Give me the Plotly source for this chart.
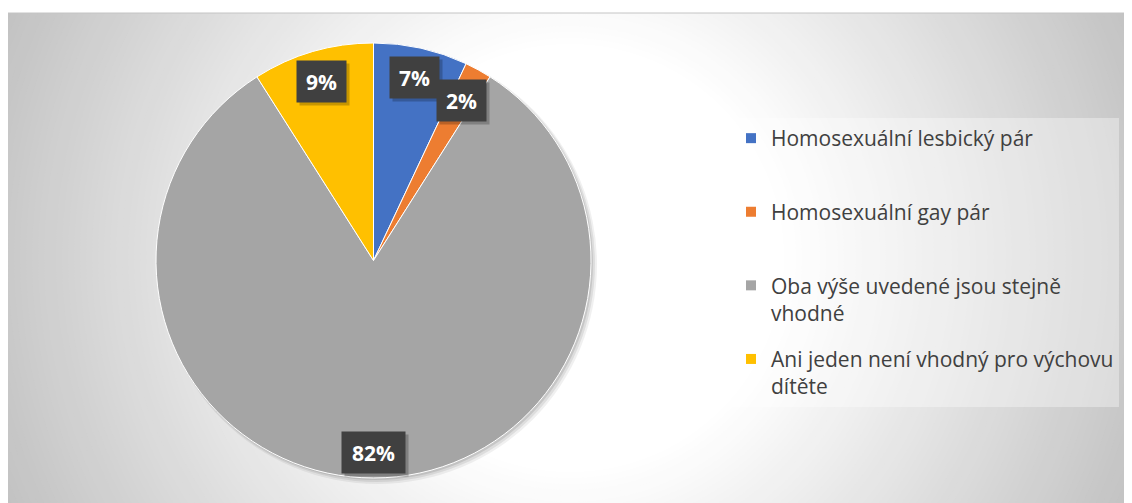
import math
import plotly.graph_objects as go

# ---- data ----
categories = [
    "Homosexuální lesbický pár",
    "Homosexuální gay pár",
    "Oba výše uvedené jsou stejně vhodné",
    "Ani jeden není vhodný pro výchovu dítěte",
]
legend_names = [
    "Homosexuální lesbický pár<br>\u00a0",
    "Homosexuální gay pár<br>\u00a0",
    "Oba výše uvedené jsou stejně<br>vhodné",
    "Ani jeden není vhodný pro výchovu<br>dítěte",
]
values = [7, 2, 82, 9]
value_labels = ["7%", "2%", "82%", "9%"]
colors = ["#4472C4", "#ED7D31", "#A5A5A5", "#FFC000"]

# ---- geometry (pixels, page coords shifted by body margin) ----
W, H = 1132, 503
OFF = 8
CX, CY, R = 373.5 - OFF, 260.5 - OFF, 217.5
AREA_T = 13 - OFF
GC_X, GC_Y = 570 - OFF, 258 - OFF  # gradient centre


def px(x):
    return x / W


def py(y):
    return 1 - y / H


fig = go.Figure()
fig.add_trace(go.Pie(
    labels=categories,
    values=values,
    sort=False,
    direction="clockwise",
    rotation=0,
    marker=dict(colors=colors, line=dict(color="white", width=1)),
    textinfo="none",
    hoverinfo="label+percent",
    domain=dict(x=[px(CX - R), px(CX + R)], y=[py(CY + R), py(CY - R)]),
    showlegend=False,
))

# legend entries (one per category, same colours as the slices)
for name, col, cat in zip(legend_names, colors, categories):
    fig.add_trace(go.Scatter(
        x=[None], y=[None], mode="markers", name=name, legendgroup=cat,
        marker=dict(symbol="square", size=10, color=col),
        hoverinfo="skip", showlegend=True,
    ))

shapes = []


def grad_color(r):
    if r <= 215:
        v = 255
    else:
        v = 255 - (r - 215) / 400 * 61
    v = int(max(192, min(255, round(v))))
    return f"rgb({v},{v},{v})"


shapes.append(dict(type="rect", xref="paper", yref="paper", x0=0, x1=1, y0=0, y1=1,
                   fillcolor=grad_color(640), line=dict(width=0), layer="below"))
r = 640
while r >= 210:
    shapes.append(dict(type="circle", xref="paper", yref="paper",
                       x0=px(GC_X - r), x1=px(GC_X + r), y0=py(GC_Y + r), y1=py(GC_Y - r),
                       fillcolor=grad_color(r), line=dict(width=0), layer="below"))
    r -= 6

# pie drop shadow
for off, extra, alpha in [(4, 2, 0.06), (3, 1, 0.08), (2, 0, 0.10)]:
    shapes.append(dict(type="circle", xref="paper", yref="paper",
                       x0=px(CX - R - extra + off), x1=px(CX + R + extra + off),
                       y0=py(CY + R + extra + off), y1=py(CY - R - extra + off),
                       fillcolor=f"rgba(0,0,0,{alpha})", line=dict(width=0), layer="below"))

# white page strip above the chart area
shapes.append(dict(type="rect", xref="paper", yref="paper", x0=0, x1=1, y0=py(AREA_T), y1=1,
                   fillcolor="white", line=dict(width=0), layer="below"))
shapes.append(dict(type="line", xref="paper", yref="paper", x0=0, x1=1,
                   y0=py(AREA_T), y1=py(AREA_T), line=dict(color="#c4c4c4", width=1), layer="below"))

# ---- data labels (inside end, dark boxes) ----
annotations = []
total = sum(values)
cum = 0
for v, lab in zip(values, value_labels):
    mid = (cum + v / 2) / total * 2 * math.pi
    cum += v
    bw = 49 if len(lab) <= 2 else 63
    bh = 41
    ux, uy = math.sin(mid), -math.cos(mid)
    extent = abs(ux) * bw / 2 + abs(uy) * bh / 2
    d = R - 5 - extent
    lx, ly = CX + ux * d, CY + uy * d
    common = dict(xref="paper", yref="paper", showarrow=False, xanchor="center",
                  yanchor="middle", width=bw - 8, height=bh - 8, borderpad=4,
                  font=dict(size=21, color="white", family="Open Sans"))
    annotations.append(dict(x=px(lx + 3), y=py(ly + 3), text=" ",
                            bgcolor="rgba(0,0,0,0.22)", **common))
    annotations.append(dict(x=px(lx), y=py(ly), text=f"<b>{lab}</b>",
                            bgcolor="#404040", align="center", valign="middle", **common))

fig.update_layout(
    width=W, height=H,
    margin=dict(l=0, r=0, t=0, b=0),
    paper_bgcolor="white",
    plot_bgcolor="rgba(0,0,0,0)",
    xaxis=dict(visible=False),
    yaxis=dict(visible=False),
    shapes=shapes,
    annotations=annotations,
    legend=dict(
        x=px(731 - OFF), y=py(118 - OFF), xanchor="left", yanchor="top",
        bgcolor="rgba(255,255,255,0.35)",
        font=dict(family="Open Sans", size=21, color="#404040"),
        valign="top",
        traceorder="grouped",
        tracegroupgap=16,
    ),
)

fig.write_html("out.html")
